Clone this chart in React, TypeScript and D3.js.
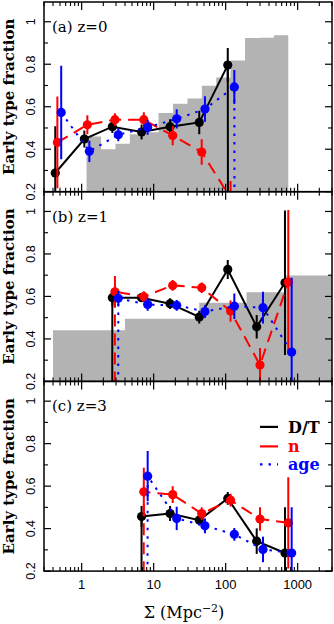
import React from 'react';
import * as d3 from 'd3';

const W = 334;
const H = 624;
const LEFT = 44;
const RIGHT = 332;
const PANEL_TOPS = [2, 191.7, 381.4];
const PANEL_H = 189.7;
const X_DOMAIN: [number, number] = [0.3, 3000];
const Y_DOMAIN: [number, number] = [0.2, 1.093];

const panelLabels = ['(a) z=0', '(b) z=1', '(c) z=3'];
const yTickValues = [0.2, 0.4, 0.6, 0.8, 1];
const yTickLabels = ['0.2', '0.4', '0.6', '0.8', '1'];
const yMinorTicks = [0.3, 0.5, 0.7, 0.9];
const xMajorTicks = [1, 10, 100, 1000];
const xTickLabels = ['1', '10', '100', '1000'];
const xMinorTicks = [0.3, 0.4, 0.5, 0.6, 0.7, 0.8, 0.9, 2, 3, 4, 5, 6, 7, 8, 9, 20, 30, 40, 50, 60, 70, 80, 90, 200, 300, 400, 500, 600, 700, 800, 900, 2000, 3000];

// flag value used for empty bins (drawn off the chart)
const FLAG = -99;

// grey histograms
const histEdgesA = [1.17, 1.86, 2.95, 4.67, 7.41, 11.7, 18.6, 29.5, 46.8, 74.1, 117, 186, 295, 468, 741];
const histA = [0.46, 0.40, 0.426, 0.47, 0.48, 0.57, 0.614, 0.639, 0.699, 0.738, 0.818, 0.923, 0.925, 0.936];
const histEdgesB = [0.4, 4.0, 43, 195, 690, 4000];
const histB = [0.441, 0.495, 0.570, 0.620, 0.699];

// panel (a) z=0
const blackAx = [0.43, 1.09, 2.67, 6.8, 16.9, 43, 107, 270];
const blackAy = [0.288, 0.448, 0.506, 0.481, 0.506, 0.526, 0.796, FLAG];
const blackAe = [0.22, 0.04, 0.03, 0.035, 0.035, 0.055, 0.08, 0];
const redAx = [0.46, 1.2, 2.9, 7.3, 18.4, 46.5, 117];
const redAy = [0.432, 0.515, 0.539, 0.539, 0.464, 0.387, 0.17];
const redAe = [0.216, 0.045, 0.03, 0.035, 0.045, 0.06, 0.08];
const blueAx = [0.52, 1.28, 3.23, 8.26, 20.9, 51.6, 132, 330];
const blueAy = [0.573, 0.39, 0.468, 0.503, 0.543, 0.589, 0.693, FLAG];
const blueAe = [0.22, 0.05, 0.03, 0.035, 0.045, 0.06, 0.08, 0];

// panel (b) z=1
const blackBx = [1.09, 2.67, 6.8, 16.9, 43, 107, 270, 667];
const blackBy = [FLAG, 0.594, 0.594, 0.566, 0.503, 0.727, 0.457, 0.664];
const blackBe = [0, 0.04, 0.02, 0.025, 0.03, 0.045, 0.055, 0.34];
const redBx = [1.2, 2.9, 7.3, 18.4, 46.5, 117, 300, 741];
const redBy = [FLAG, 0.622, 0.599, 0.652, 0.641, 0.531, 0.277, 0.667];
const redBe = [0, 0.074, 0.025, 0.025, 0.025, 0.05, 0.08, 0.34];
const blueBx = [1.28, 3.23, 8.26, 20.9, 51.6, 132, 330, 826];
const blueBy = [FLAG, 0.591, 0.562, 0.558, 0.529, 0.554, 0.547, 0.338];
const blueBe = [0, 0.035, 0.03, 0.025, 0.03, 0.06, 0.075, 0.35];

// panel (c) z=3
const blackCx = [2.67, 6.8, 16.9, 43, 107, 270, 667];
const blackCy = [FLAG, 0.457, 0.471, 0.44, 0.542, 0.341, 0.285];
const blackCe = [0, 0.05, 0.035, 0.025, 0.03, 0.06, 0.216];
const redCx = [2.9, 7.3, 18.4, 46.5, 117, 300, 741];
const redCy = [FLAG, 0.573, 0.56, 0.471, 0.534, 0.445, 0.427];
const redCe = [0, 0.114, 0.04, 0.03, 0.03, 0.055, 0.215];
const blueCx = [3.23, 8.26, 20.9, 51.6, 132, 330, 826];
const blueCy = [FLAG, 0.647, 0.448, 0.413, 0.373, 0.302, 0.285];
const blueCe = [0, 0.118, 0.055, 0.035, 0.03, 0.06, 0.216];

const legendNames = ['D/T', 'n', 'age'];

const BLACK = '#000000';
const RED = '#ff0000';
const BLUE = '#0000ff';
const GREY = '#b3b3b3';

type Series = { xs: number[]; ys: number[]; es: number[]; color: string; dash: string | undefined };

const panels: { hist: { edges: number[]; h: number[] } | null; series: Series[] }[] = [
  {
    hist: { edges: histEdgesA, h: histA },
    series: [
      { xs: blackAx, ys: blackAy, es: blackAe, color: BLACK, dash: undefined },
      { xs: redAx, ys: redAy, es: redAe, color: RED, dash: '12,7' },
      { xs: blueAx, ys: blueAy, es: blueAe, color: BLUE, dash: '2.5,6' },
    ],
  },
  {
    hist: { edges: histEdgesB, h: histB },
    series: [
      { xs: blackBx, ys: blackBy, es: blackBe, color: BLACK, dash: undefined },
      { xs: redBx, ys: redBy, es: redBe, color: RED, dash: '12,7' },
      { xs: blueBx, ys: blueBy, es: blueBe, color: BLUE, dash: '2.5,6' },
    ],
  },
  {
    hist: null,
    series: [
      { xs: blackCx, ys: blackCy, es: blackCe, color: BLACK, dash: undefined },
      { xs: redCx, ys: redCy, es: redCe, color: RED, dash: '12,7' },
      { xs: blueCx, ys: blueCy, es: blueCe, color: BLUE, dash: '2.5,6' },
    ],
  },
];

const x = d3.scaleLog().domain(X_DOMAIN).range([LEFT, RIGHT]);

function Panel({ idx }: { idx: number }) {
  const top = PANEL_TOPS[idx];
  const bottom = top + PANEL_H;
  const y = d3.scaleLinear().domain(Y_DOMAIN).range([bottom, top]);
  const p = panels[idx];
  const clipId = `clip${idx}`;
  let histPath = '';
  if (p.hist) {
    const hist = p.hist;
    const steps = hist.edges.map((e, i) => ({ e, h: i < hist.h.length ? hist.h[i] : hist.h[hist.h.length - 1] }));
    histPath =
      d3
        .area<{ e: number; h: number }>()
        .curve(d3.curveStepAfter)
        .x((d) => x(d.e))
        .y0(bottom)
        .y1((d) => y(d.h))(steps) || '';
  }
  return (
    <g>
      <defs>
        <clipPath id={clipId}>
          <rect x={LEFT} y={top} width={RIGHT - LEFT} height={PANEL_H} />
        </clipPath>
      </defs>
      <g clipPath={`url(#${clipId})`}>
        {p.hist && <path d={histPath} fill={GREY} stroke="none" />}
        {p.series.map((s, si) => {
          const pts = s.xs.map((xv, i) => [x(xv), y(s.ys[i])] as [number, number]);
          const d = d3.line()(pts) || '';
          return (
            <g key={si}>
              <path d={d} fill="none" stroke={s.color} strokeWidth={2} strokeDasharray={s.dash} />
              {s.xs.map((xv, i) =>
                s.ys[i] === FLAG || s.es[i] === 0 ? null : (
                  <line
                    key={'e' + i}
                    x1={x(xv)}
                    x2={x(xv)}
                    y1={y(s.ys[i] - s.es[i])}
                    y2={y(s.ys[i] + s.es[i])}
                    stroke={s.color}
                    strokeWidth={2}
                  />
                )
              )}
              {s.xs.map((xv, i) =>
                s.ys[i] === FLAG ? null : (
                  <circle key={'c' + i} cx={x(xv)} cy={y(s.ys[i])} r={4.6} fill={s.color} />
                )
              )}
            </g>
          );
        })}
      </g>
      {xMajorTicks.map((t, i) => (
        <g key={'xm' + i}>
          <line x1={x(t)} x2={x(t)} y1={bottom} y2={bottom - 8} stroke="#000" strokeWidth={1.2} />
          <line x1={x(t)} x2={x(t)} y1={top} y2={top + 8} stroke="#000" strokeWidth={1.2} />
        </g>
      ))}
      {xMinorTicks.map((t, i) => (
        <g key={'xn' + i}>
          <line x1={x(t)} x2={x(t)} y1={bottom} y2={bottom - 4} stroke="#000" strokeWidth={1.1} />
          <line x1={x(t)} x2={x(t)} y1={top} y2={top + 4} stroke="#000" strokeWidth={1.1} />
        </g>
      ))}
      {yTickValues.map((t, i) => (
        <g key={'ym' + i}>
          <line x1={LEFT} x2={LEFT + 7} y1={y(t)} y2={y(t)} stroke="#000" strokeWidth={1.2} />
          <line x1={RIGHT} x2={RIGHT - 7} y1={y(t)} y2={y(t)} stroke="#000" strokeWidth={1.2} />
          <text
            transform={`translate(35,${y(t)}) rotate(-90)`}
            textAnchor="middle"
            fontFamily="Liberation Sans, Arial, sans-serif"
            fontSize={12.5}
            fill="#000"
          >
            {yTickLabels[i]}
          </text>
        </g>
      ))}
      {yMinorTicks.map((t, i) => (
        <g key={'yn' + i}>
          <line x1={LEFT} x2={LEFT + 4} y1={y(t)} y2={y(t)} stroke="#000" strokeWidth={1.1} />
          <line x1={RIGHT} x2={RIGHT - 4} y1={y(t)} y2={y(t)} stroke="#000" strokeWidth={1.1} />
        </g>
      ))}
      <rect x={LEFT} y={top} width={RIGHT - LEFT} height={PANEL_H} fill="none" stroke="#000" strokeWidth={1.5} />
      <text x={52} y={top + 30} fontFamily="DejaVu Serif, serif" fontSize={15} fill="#000">
        {panelLabels[idx]}
      </text>
      <text
        transform={`translate(14,${(top + bottom) / 2}) rotate(-90)`}
        textAnchor="middle"
        fontFamily="DejaVu Serif, serif"
        fontWeight="bold"
        fontSize={15}
        fill="#000"
      >
        Early type fraction
      </text>
    </g>
  );
}

export default function App() {
  const cTop = PANEL_TOPS[2];
  const cBottom = cTop + PANEL_H;
  const legendColors = [BLACK, RED, BLUE];
  const legendDash = [undefined, '18,10', '2.5,6'];
  const legendY = [cTop + 45.5, cTop + 65, cTop + 83];
  return (
    <svg
      width={W}
      height={H}
      style={{ position: 'absolute', left: 0, top: 0, background: '#fff' }}
      xmlns="http://www.w3.org/2000/svg"
    >
      <rect x={0} y={0} width={W} height={H} fill="#fff" />
      {[0, 1, 2].map((i) => (
        <Panel key={i} idx={i} />
      ))}
      {xMajorTicks.map((t, i) => (
        <text
          key={'xl' + i}
          x={x(t)}
          y={cBottom + 18}
          textAnchor="middle"
          fontFamily="Liberation Sans, Arial, sans-serif"
          fontSize={13}
          fill="#000"
        >
          {xTickLabels[i]}
        </text>
      ))}
      <text x={184} y={618} textAnchor="middle" fontFamily="DejaVu Serif, serif" fontSize={16} fill="#000">
        Σ (Mpc<tspan dy={-6} fontSize={11}>−2</tspan><tspan dy={6}>)</tspan>
      </text>
      {legendNames.map((n, i) => (
        <g key={'lg' + i}>
          <line
            x1={260}
            x2={278}
            y1={legendY[i]}
            y2={legendY[i]}
            stroke={legendColors[i]}
            strokeWidth={2.2}
            strokeDasharray={legendDash[i]}
          />
          <text
            x={288}
            y={legendY[i] + 6}
            fontFamily="DejaVu Serif, serif"
            fontWeight="bold"
            fontSize={16}
            fill={legendColors[i]}
          >
            {n}
          </text>
        </g>
      ))}
    </svg>
  );
}
